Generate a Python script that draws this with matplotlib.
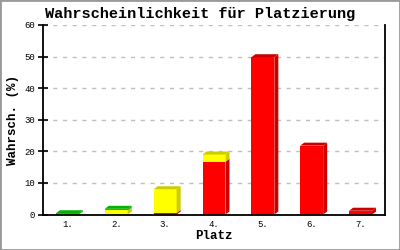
import matplotlib
matplotlib.use("Agg")
import matplotlib.pyplot as plt
from matplotlib.patches import Rectangle

# placement data (percent)
plaetze = ["1.", "2.", "3.", "4.", "5.", "6.", "7."]
rot = [0.0, 0.0, 0.5, 16.7, 49.8, 21.8, 1.2]
gelb = [0.0, 1.3, 7.5, 2.3, 0.0, 0.0, 0.0]
gruen = [0.4, 0.5, 0.0, 0.0, 0.0, 0.0, 0.0]

serien = [(rot, "#ff0000", "#cc0000"),
          (gelb, "#ffff00", "#cccc00"),
          (gruen, "#00cc00", "#00b400")]

mono = ["Liberation Mono", "DejaVu Sans Mono"]

fig = plt.figure(figsize=(4, 2.5), dpi=100)
ax = fig.add_axes([0.1075, 0.142, 0.855, 0.758])

x = list(range(len(plaetze)))
w = 0.47
ax.set_xlim(-0.5, len(x) - 0.5)
ax.set_ylim(0, 60)

# 3d depth: 4 px right, 3 px up, converted to data units
ax_w = 0.855 * 400
ax_h = 0.758 * 250
dx = 4 * len(x) / ax_w
dy = 3 * 60 / ax_h

gesamt = [sum(v) for v in zip(rot, gelb, gruen)]
unten = [0.0] * len(x)
for werte, farbe, dunkel in serien:
    for i in x:
        if werte[i] <= 0:
            continue
        b = unten[i]
        t = b + werte[i]
        ax.bar(i, werte[i], w, bottom=b, color=farbe, linewidth=0, zorder=3)
        r = i + w / 2
        l = i - w / 2
        ax.fill([r, r + dx, r + dx, r], [b, b + dy, t + dy, t],
                color=dunkel, linewidth=0, zorder=3)
        if abs(t - gesamt[i]) < 1e-9:
            ax.fill([l, l + dx, r + dx, r], [t, t + dy, t + dy, t],
                    color=dunkel, linewidth=0, zorder=3)
    unten = [u + v for u, v in zip(unten, werte)]

ax.set_yticks(range(0, 61, 10))
ax.set_xticks(x)
ax.set_xticklabels(plaetze)
ax.yaxis.grid(True, linestyle=(0, (3, 4)), color="#c0c0c0", linewidth=1)
ax.set_axisbelow(True)

for lab in ax.get_xticklabels() + ax.get_yticklabels():
    lab.set_family(mono)
    lab.set_fontsize(6.5)
ax.tick_params(axis="x", length=0, pad=4)
ax.tick_params(axis="y", direction="inout", length=7, width=1.2, pad=2)

ax.spines["top"].set_visible(False)
for s in ["left", "bottom", "right"]:
    ax.spines[s].set_linewidth(1.3)
    ax.spines[s].set_color("black")
    ax.spines[s].set_zorder(4)

ax.set_xlabel("Platz", family=mono, fontweight="bold", fontsize=9, labelpad=1)
ax.set_ylabel("Wahrsch. (%)", family=mono, fontweight="bold", fontsize=9, labelpad=4)
fig.text(0.5, 0.945, "Wahrscheinlichkeit für Platzierung", family=mono,
         fontweight="bold", fontsize=11, ha="center", va="center")

fig.patches.append(Rectangle((0, 0), 1, 1, transform=fig.transFigure, fill=False,
                             edgecolor="#999999", linewidth=2))

fig.savefig("out.png", dpi=100)
